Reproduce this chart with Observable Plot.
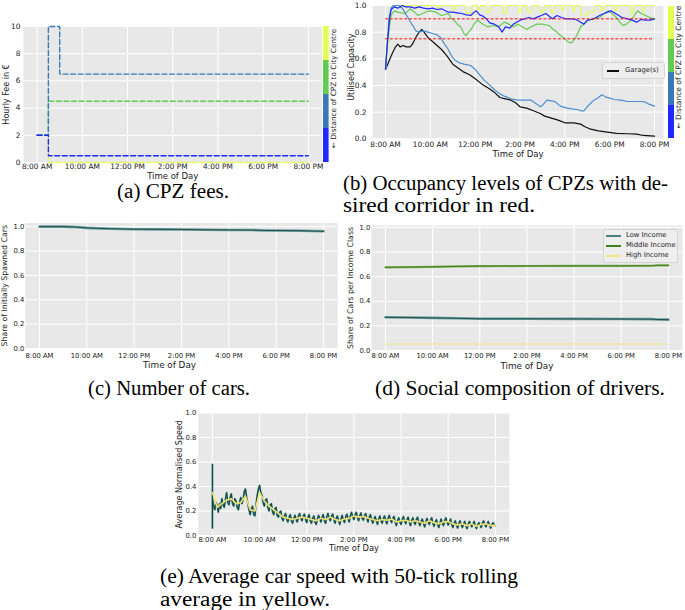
<!DOCTYPE html>
<html><head><meta charset="utf-8">
<script src="https://cdn.jsdelivr.net/npm/d3@7"></script>
<script src="https://cdn.jsdelivr.net/npm/@observablehq/plot@0.6"></script>
<style>
body{margin:0;background:#fff;}
#root{position:relative;width:685px;height:610px;overflow:hidden;background:#fff;}
.cap{position:absolute;font-family:"Liberation Serif",serif;font-size:20px;line-height:20px;color:#000;white-space:nowrap;transform-origin:0 50%;}
.legend{position:absolute;background:rgba(238,238,238,0.9);border:1px solid #d4d4d4;border-radius:2px;box-sizing:border-box;font-family:"DejaVu Sans",sans-serif;color:#222;}
.legend .sw{position:absolute;}
.legend .lt{position:absolute;white-space:nowrap;line-height:1;}
</style></head><body><div id="root"></div>
<script>
// ---------- shared ----------
const hourTicks = [8, 10, 12, 14, 16, 18, 20];
const unitTicks = [0, 0.2, 0.4, 0.6, 0.8, 1.0];
const feeTicks = [0, 2, 4, 6, 8, 10];
const zoneNames = ["Zone 4", "Zone 3", "Zone 2", "Zone 1"]; // top to bottom of colour bar
const zoneColors = ["#e2ff55", "#62cc52", "#3a78b8", "#1e2aff"];
const colorbarLabel = "\u2190 Distance of CPZ to City Centre";

// ---------- (a) CPZ fees ----------
const feeTimes = [8, 8.5, 9, 20];
const feeZone1 = [2, 0.5, 0.5, 0.5];
const feeZone2 = [2, 10, 6.5, 6.5];
const feeZone3 = [2, 4.5, 4.5, 4.5];
const feeZone4 = [2, 0, 0, 0];

// ---------- (b) occupancy ----------
const occGarage = [[8.0,0.52],[8.1,0.56],[8.2,0.6],[8.3,0.64],[8.45,0.69],[8.55,0.71],[8.65,0.69],[8.8,0.70],[8.9,0.69],[9.1,0.69],[9.2,0.71],[9.35,0.76],[9.5,0.80],[9.62,0.82],[9.72,0.80],[9.85,0.77],[9.95,0.75],[10.1,0.73],[10.3,0.70],[10.5,0.67],[10.75,0.62],[11.0,0.56],[11.25,0.53],[11.5,0.50],[11.75,0.48],[12.0,0.45],[12.3,0.41],[12.6,0.38],[12.85,0.35],[13.1,0.31],[13.35,0.30],[13.6,0.29],[13.8,0.27],[14.0,0.24],[14.3,0.23],[14.6,0.21],[14.9,0.19],[15.1,0.17],[15.4,0.155],[15.7,0.14],[16.0,0.12],[16.4,0.12],[16.7,0.11],[16.9,0.09],[17.1,0.075],[17.5,0.06],[17.9,0.05],[18.3,0.04],[18.8,0.038],[19.2,0.035],[19.5,0.025],[20.0,0.02]];
const occZone2 = [[8.0,0.52],[8.08,0.7],[8.15,0.9],[8.25,0.98],[8.35,1.0],[8.6,1.0],[8.75,0.98],[8.85,0.95],[9.0,0.91],[9.1,0.88],[9.25,0.84],[9.35,0.81],[9.5,0.80],[9.7,0.81],[9.9,0.80],[10.1,0.79],[10.3,0.78],[10.45,0.76],[10.6,0.72],[10.8,0.67],[10.95,0.62],[11.1,0.59],[11.3,0.57],[11.5,0.56],[11.8,0.55],[12.0,0.52],[12.2,0.48],[12.4,0.44],[12.6,0.41],[12.85,0.37],[13.0,0.35],[13.3,0.32],[13.6,0.30],[13.9,0.29],[14.1,0.29],[14.3,0.29],[14.5,0.29],[14.75,0.26],[14.9,0.24],[15.0,0.25],[15.2,0.29],[15.4,0.285],[15.55,0.28],[15.8,0.245],[16.1,0.23],[16.3,0.225],[16.55,0.22],[16.75,0.21],[16.85,0.21],[17.05,0.25],[17.3,0.29],[17.5,0.31],[17.65,0.33],[17.8,0.315],[18.0,0.305],[18.2,0.295],[18.5,0.29],[18.8,0.28],[19.1,0.28],[19.4,0.28],[19.6,0.275],[19.75,0.26],[20.0,0.245]];
const occZone1 = [[8.0,0.52],[8.07,0.7],[8.13,0.8],[8.18,0.9],[8.25,0.97],[8.4,0.99],[8.55,0.98],[8.75,1.0],[8.9,0.99],[9.1,0.99],[9.3,0.98],[9.5,0.99],[9.7,0.98],[9.9,0.975],[10.1,0.98],[10.3,0.97],[10.5,0.975],[10.8,0.95],[11.0,0.95],[11.2,0.945],[11.4,0.94],[11.6,0.93],[11.8,0.925],[11.95,0.95],[12.05,0.96],[12.2,0.93],[12.35,0.92],[12.5,0.90],[12.65,0.87],[12.85,0.86],[13.05,0.84],[13.2,0.80],[13.35,0.84],[13.55,0.83],[13.7,0.86],[13.85,0.875],[14.0,0.89],[14.2,0.9],[14.4,0.91],[14.6,0.9],[14.8,0.915],[14.95,0.925],[15.15,0.94],[15.3,0.92],[15.45,0.9],[15.65,0.925],[15.85,0.91],[16.05,0.9],[16.3,0.9],[16.5,0.895],[16.65,0.88],[16.85,0.86],[17.0,0.89],[17.2,0.895],[17.4,0.91],[17.55,0.925],[17.75,0.94],[17.9,0.95],[18.05,0.96],[18.2,0.945],[18.35,0.93],[18.55,0.91],[18.8,0.9],[19.0,0.89],[19.2,0.875],[19.4,0.895],[19.6,0.89],[19.8,0.89],[20.0,0.9]];
const occZone3 = [[8.0,0.52],[8.08,0.7],[8.17,0.84],[8.25,0.93],[8.4,0.96],[8.55,0.95],[8.8,0.94],[8.95,0.95],[9.1,0.975],[9.3,0.95],[9.45,0.925],[9.65,0.94],[9.85,0.955],[10.0,0.96],[10.25,0.95],[10.5,0.925],[10.8,0.94],[10.95,0.9],[11.05,0.89],[11.2,0.86],[11.35,0.84],[11.5,0.79],[11.6,0.775],[11.7,0.8],[11.85,0.83],[11.95,0.86],[12.1,0.89],[12.35,0.86],[12.55,0.84],[12.8,0.85],[13.05,0.84],[13.3,0.875],[13.5,0.86],[13.7,0.84],[13.9,0.86],[14.1,0.84],[14.3,0.82],[14.5,0.84],[14.75,0.86],[15.0,0.86],[15.3,0.85],[15.45,0.825],[15.65,0.8],[15.8,0.775],[16.0,0.75],[16.15,0.725],[16.3,0.72],[16.45,0.75],[16.6,0.8],[16.7,0.84],[16.85,0.86],[17.05,0.89],[17.3,0.9],[17.55,0.91],[17.75,0.94],[17.95,0.96],[18.1,0.94],[18.3,0.91],[18.45,0.875],[18.6,0.85],[18.75,0.86],[18.95,0.89],[19.1,0.925],[19.25,0.96],[19.4,0.94],[19.6,0.925],[19.8,0.91],[20.0,0.9]];
const occZone4 = [[8.0,0.52],[8.08,0.62],[8.15,0.8],[8.22,0.96],[8.3,1.0],[8.7,1.0],[8.75,0.98],[8.85,1.0],[9.4,1.0],[9.45,0.98],[9.55,1.0],[10.3,1.0],[10.35,0.97],[10.45,1.0],[11.0,1.0],[11.05,0.96],[11.15,1.0],[11.55,1.0],[11.6,0.94],[11.8,0.94],[11.85,1.0],[12.1,1.0],[12.15,0.96],[12.25,1.0],[12.45,1.0],[12.5,0.95],[12.65,0.95],[12.7,1.0],[13.2,1.0],[13.25,0.94],[13.4,0.94],[13.45,1.0],[13.9,1.0],[13.95,0.95],[14.05,0.95],[14.1,1.0],[14.3,1.0],[14.35,0.95],[14.5,0.95],[14.55,1.0],[14.85,1.0],[14.9,0.95],[15.05,0.95],[15.1,1.0],[15.35,1.0],[15.4,0.95],[15.5,0.95],[15.55,1.0],[15.85,1.0],[15.9,0.96],[16.0,1.0],[16.35,1.0],[16.4,0.95],[16.5,1.0],[16.7,1.0],[16.75,0.93],[17.0,0.93],[17.05,0.95],[17.3,0.95],[17.35,1.0],[17.6,1.0],[17.65,0.96],[17.8,1.0],[18.2,1.0],[18.25,0.95],[18.35,1.0],[18.9,1.0],[18.95,0.94],[19.05,0.94],[19.1,1.0],[19.45,1.0],[19.5,0.95],[19.6,1.0],[20.0,1.0]];
const corridorLevels = [0.75, 0.9];
const corridorSpan = [8, 20];

// ---------- (c) number of cars ----------
const carsT = [8, 8.5, 9, 9.5, 10, 10.5, 11, 11.5, 12, 13, 14, 15, 16, 17, 17.5, 18, 19, 19.5, 20];
const carsV = [1.0, 1.0, 1.0, 0.997, 0.99, 0.986, 0.983, 0.981, 0.979, 0.978, 0.977, 0.974, 0.973, 0.972, 0.969, 0.968, 0.967, 0.964, 0.962];

// ---------- (d) income classes ----------
const incomeT = [8, 9, 10, 11, 12, 14, 16, 18, 19.3, 19.5, 20];
const incomeLow = [0.27, 0.268, 0.265, 0.262, 0.258, 0.258, 0.257, 0.256, 0.255, 0.252, 0.251];
const incomeMid = [0.676, 0.678, 0.68, 0.683, 0.686, 0.687, 0.688, 0.688, 0.689, 0.692, 0.692];
const incomeHigh = [0.053, 0.053, 0.053, 0.053, 0.053, 0.053, 0.053, 0.053, 0.053, 0.053, 0.053];

// ---------- (e) speed (one row per hour, 3-minute samples) ----------
const speedStart = 8, speedStep = 0.05;
const speedSpike = [0.58, 0.06];
const speedRaw = [
  0.30,0.24,0.21,0.27,0.24,0.19,0.26,0.22,0.30,0.25,0.23,0.29,0.35,0.27,0.25,0.31,0.34,0.26,0.24,0.30,
  0.28,0.23,0.21,0.27,0.31,0.26,0.29,0.36,0.38,0.31,0.26,0.21,0.17,0.22,0.24,0.17,0.16,0.25,0.33,0.38,
  0.41,0.35,0.33,0.27,0.24,0.29,0.30,0.23,0.20,0.25,0.26,0.19,0.17,0.22,0.23,0.16,0.15,0.19,0.20,0.14,
  0.12,0.16,0.18,0.13,0.11,0.15,0.17,0.12,0.10,0.14,0.165,0.13,0.11,0.16,0.18,0.14,0.12,0.16,0.175,0.13,
  0.105,0.15,0.17,0.12,0.10,0.14,0.16,0.11,0.09,0.13,0.165,0.14,0.11,0.15,0.17,0.12,0.10,0.15,0.18,0.14,
  0.12,0.16,0.175,0.13,0.10,0.14,0.16,0.12,0.09,0.13,0.165,0.13,0.105,0.15,0.175,0.14,0.11,0.16,0.19,0.15,
  0.13,0.17,0.19,0.15,0.12,0.16,0.185,0.14,0.125,0.16,0.18,0.14,0.11,0.15,0.17,0.13,0.10,0.13,0.155,0.12,
  0.09,0.13,0.16,0.12,0.10,0.14,0.16,0.12,0.095,0.14,0.165,0.13,0.105,0.14,0.155,0.11,0.08,0.12,0.145,0.11,
  0.09,0.13,0.155,0.12,0.095,0.13,0.15,0.11,0.08,0.12,0.145,0.11,0.09,0.13,0.15,0.11,0.08,0.115,0.135,0.10,
  0.07,0.11,0.14,0.11,0.09,0.125,0.145,0.10,0.075,0.11,0.13,0.09,0.065,0.10,0.135,0.10,0.08,0.12,0.145,0.11,
  0.085,0.11,0.135,0.09,0.065,0.10,0.12,0.085,0.06,0.095,0.12,0.09,0.065,0.095,0.115,0.08,0.055,0.09,0.115,0.09,
  0.07,0.095,0.115,0.08,0.055,0.085,0.105,0.085,0.065,0.10,0.12,0.09,0.07,0.095,0.115,0.085,0.06,0.085,0.105,0.09,
  0.08];
const rollStep = 0.2;
const speedRolling = [0.35,0.23,0.26,0.29,0.30,0.26,0.27,0.32,0.21,0.20,
  0.35,0.28,0.24,0.21,0.18,0.15,0.14,0.13,0.14,0.15,
  0.14,0.13,0.12,0.14,0.13,0.15,0.13,0.12,0.135,0.14,
  0.16,0.15,0.155,0.14,0.13,0.12,0.13,0.125,0.135,0.11,
  0.12,0.125,0.11,0.12,0.11,0.10,0.12,0.105,0.095,0.11,
  0.115,0.095,0.085,0.095,0.08,0.095,0.075,0.09,0.095,0.08,
  0.085];

// ---------- captions ----------
const captions = [
  {text: "(a) CPZ fees.", x: 117, y: 192, w: 112},
  {text: "(b) Occupancy levels of CPZs with de-", x: 343, y: 184, w: 325},
  {text: "sired corridor in red.", x: 343, y: 206, w: 192},
  {text: "(c) Number of cars.", x: 88, y: 389, w: 162},
  {text: "(d) Social composition of drivers.", x: 375, y: 389, w: 290},
  {text: "(e) Average car speed with 50-tick rolling", x: 160, y: 577, w: 358},
  {text: "average in yellow.", x: 160, y: 600, w: 170}
];

// =================== rendering ===================
const root = document.getElementById("root");
const BG = "#e8e8e8";
const FONT = "DejaVu Sans";
const timeLabel = h => `${(h + 11) % 12 + 1}:00 ${h < 12 ? "AM" : "PM"}`;
const f1 = d3.format(".1f");

function place(svg, left, top) {
  svg.style.position = "absolute";
  svg.style.left = left + "px";
  svg.style.top = top + "px";
  root.appendChild(svg);
}

function panel(o) {
  const svg = Plot.plot({
    width: o.width, height: o.height,
    marginLeft: o.ml, marginRight: o.mr, marginTop: o.mt, marginBottom: o.mb,
    x: {domain: o.xd}, y: {domain: o.yd},
    style: {fontFamily: FONT, fontSize: o.fs + "px", color: "#222", background: "transparent", overflow: "visible"},
    marks: [
      Plot.frame({fill: BG, stroke: "none"}),
      Plot.gridX({ticks: hourTicks, stroke: "#fff", strokeOpacity: 1, strokeWidth: 1}),
      Plot.gridY({ticks: o.yTicks, stroke: "#fff", strokeOpacity: 1, strokeWidth: 1}),
      Plot.axisX({ticks: hourTicks, tickSize: 0, tickPadding: o.xpad, tickFormat: timeLabel, label: null, fontSize: o.fs}),
      Plot.axisY({ticks: o.yTicks, tickSize: 0, tickPadding: o.ypad, tickFormat: o.yFmt, label: null, fontSize: o.fs}),
      ...o.marks,
      Plot.text([o.xlabel], {frameAnchor: "bottom", textAnchor: "middle", lineAnchor: "middle", dy: o.xdy, dx: o.xdx || 0, fontSize: o.xfs}),
      Plot.text([o.ylabel], {frameAnchor: "left", textAnchor: "middle", lineAnchor: "middle", dx: o.ydx, dy: o.ydy || 0, rotate: -90, fontSize: o.yfs})
    ]
  });
  place(svg, o.left, o.top);
}

function colorbar(o) {
  const zones = zoneNames.map((z, i) => ({zone: z, color: zoneColors[i]}));
  const svg = Plot.plot({
    width: o.width, height: o.height,
    marginLeft: o.ml, marginRight: o.mr, marginTop: o.mt, marginBottom: o.mb,
    y: {type: "band", domain: zoneNames, padding: 0, axis: null},
    color: {type: "identity"},
    style: {fontFamily: FONT, fontSize: o.fs + "px", color: "#222", background: "transparent", overflow: "visible"},
    marks: [
      Plot.cell(zones, {y: "zone", fill: "color", inset: 0}),
      Plot.text([colorbarLabel], {frameAnchor: "right", textAnchor: "middle", lineAnchor: "middle", dx: o.tdx, dy: o.tdy, rotate: -90, fontSize: o.fs})
    ]
  });
  place(svg, o.left, o.top);
}

const pairs = arr => arr.map(([t, v]) => ({t, v}));
const zip = (ts, vs) => ts.map((t, i) => ({t, v: vs[i]}));

// (a)
const dash = {x: "t", y: "v", curve: "step-after", strokeWidth: 1.4, strokeDasharray: "5,2.6"};
panel({
  left: 0, top: 0, width: 330, height: 182, ml: 23, mr: 8.5, mt: 26, mb: 20,
  xd: [7.4, 20.6], yd: [0, 10], yTicks: feeTicks, yFmt: d => String(d),
  fs: 7.4, xpad: 1.5, ypad: 3,
  xlabel: "Time of Day", xdy: 14, xfs: 8.5,
  ylabel: "Hourly Fee in \u20ac", ydx: -17, yfs: 8,
  marks: [
    Plot.line(zip(feeTimes, feeZone4), {...dash, stroke: zoneColors[0]}),
    Plot.line(zip(feeTimes, feeZone3), {...dash, stroke: zoneColors[1]}),
    Plot.line(zip(feeTimes, feeZone2), {...dash, stroke: zoneColors[2]}),
    Plot.line(zip(feeTimes, feeZone1), {...dash, stroke: zoneColors[3]})
  ]
});
colorbar({left: 318, top: 0, width: 24, height: 182, ml: 5, mr: 13.4, mt: 26, mb: 20, fs: 7.3, tdx: 4.5, tdy: -6});

// (b)
const solid = {x: "t", y: "v", strokeWidth: 1.2};
panel({
  left: 340, top: 0, width: 335, height: 161, ml: 32, mr: 12, mt: 5, mb: 22.7,
  xd: [7.42, 20.4], yd: [0, 1], yTicks: unitTicks, yFmt: f1,
  fs: 7.4, xpad: 3, ypad: 6,
  xlabel: "Time of Day", xdy: 15.5, xfs: 8.5,
  ylabel: "Utilised Capacity", ydx: -21, ydy: -5, yfs: 8,
  marks: [
    Plot.line(pairs(occGarage), {...solid, stroke: "#111"}),
    Plot.line(pairs(occZone4), {...solid, stroke: zoneColors[0]}),
    Plot.line(pairs(occZone3), {...solid, stroke: zoneColors[1]}),
    Plot.line(pairs(occZone2), {...solid, stroke: "#4a8fd0"}),
    Plot.line(pairs(occZone1), {...solid, stroke: zoneColors[3]}),
    Plot.ruleY(corridorLevels, {x1: corridorSpan[0], x2: corridorSpan[1], stroke: "#ff1010", strokeWidth: 1, strokeDasharray: "3,1.8"})
  ]
});
colorbar({left: 663, top: 0, width: 22, height: 161, ml: 5, mr: 11, mt: 5, mb: 22.7, fs: 7.5, tdx: 4.5, tdy: -5});

// (c)
panel({
  left: 0, top: 210, width: 345, height: 165, ml: 24.8, mr: 7.8, mt: 12.5, mb: 27,
  xd: [7.4, 20.6], yd: [0, 1.03], yTicks: unitTicks, yFmt: f1,
  fs: 6.8, xpad: 5, ypad: 1,
  xlabel: "Time of Day", xdy: 16.5, xdx: -12, xfs: 8.8,
  ylabel: "Share of Initially Spawned Cars", ydx: -20.6, yfs: 7.8,
  marks: [
    Plot.line(zip(carsT, carsV), {x: "t", y: "v", stroke: "#6a9c9c", strokeWidth: 2.6}),
    Plot.line(zip(carsT, carsV), {x: "t", y: "v", stroke: "#1f4f4f", strokeWidth: 1})
  ]
});

// (d)
panel({
  left: 340, top: 210, width: 345, height: 165, ml: 30.8, mr: 3, mt: 15, mb: 25,
  xd: [7.4, 20.6], yd: [0, 1.016], yTicks: unitTicks, yFmt: f1,
  fs: 6.8, xpad: 2.5, ypad: 1,
  xlabel: "Time of Day", xdy: 15.5, xfs: 8.8,
  ylabel: "Share of Cars per Income Class", ydx: -20.8, yfs: 7.8,
  marks: [
    Plot.line(zip(incomeT, incomeHigh), {x: "t", y: "v", stroke: "#f3e38a", strokeWidth: 1.2}),
    Plot.line(zip(incomeT, incomeMid), {x: "t", y: "v", stroke: "#7fb05a", strokeWidth: 2.2}),
    Plot.line(zip(incomeT, incomeMid), {x: "t", y: "v", stroke: "#3f7f1c", strokeWidth: 1}),
    Plot.line(zip(incomeT, incomeLow), {x: "t", y: "v", stroke: "#6a9c9c", strokeWidth: 2.6}),
    Plot.line(zip(incomeT, incomeLow), {x: "t", y: "v", stroke: "#1f4f4f", strokeWidth: 1})
  ]
});

// (e)
const speedDark = [{t: speedStart, v: speedSpike[0]}, {t: speedStart, v: speedSpike[1]}]
  .concat(speedRaw.map((v, i) => ({t: speedStart + i * speedStep, v})));
const speedRoll = speedRolling.map((v, i) => ({t: speedStart + i * rollStep, v}));
panel({
  left: 160, top: 400, width: 360, height: 155, ml: 37.8, mr: 11, mt: 12.5, mb: 20,
  xd: [7.4, 20.6], yd: [0, 1], yTicks: unitTicks, yFmt: f1,
  fs: 6.8, xpad: 1.5, ypad: 2,
  xlabel: "Time of Day", xdy: 13.3, xfs: 8.3,
  ylabel: "Average Normalised Speed", ydx: -18.8, yfs: 8,
  marks: [
    Plot.line(speedDark, {x: "t", y: "v", stroke: "#4d8a86", strokeWidth: 1.8}),
    Plot.line(speedDark, {x: "t", y: "v", stroke: "#0e4541", strokeWidth: 1}),
    Plot.line(speedRoll, {x: "t", y: "v", stroke: "#f2e274", strokeWidth: 1.6})
  ]
});

// legends
function legend(left, top, w, h, fs, items) {
  const box = document.createElement("div");
  box.className = "legend";
  Object.assign(box.style, {left: left + "px", top: top + "px", width: w + "px", height: h + "px"});
  for (const it of items) {
    const sw = document.createElement("div");
    sw.className = "sw";
    Object.assign(sw.style, {left: it.sx + "px", width: it.sw + "px", top: (it.cy - it.lw / 2) + "px", height: it.lw + "px", background: it.color});
    box.appendChild(sw);
    const t = document.createElement("div");
    t.className = "lt";
    t.textContent = it.label;
    Object.assign(t.style, {left: it.tx + "px", top: (it.cy - fs * 0.55) + "px", fontSize: fs + "px"});
    box.appendChild(t);
  }
  root.appendChild(box);
}
legend(602, 62, 63, 17, 6.8, [{label: "Garage(s)", color: "#111", sx: 4, sw: 12, lw: 1.5, cy: 8, tx: 22}]);
legend(603, 229, 75, 34, 6.8, [
  {label: "Low Income", color: "#4d8282", sx: 2, sw: 15, lw: 2.4, cy: 6, tx: 22},
  {label: "Middle Income", color: "#3f7f1c", sx: 2, sw: 15, lw: 1.3, cy: 16, tx: 22},
  {label: "High Income", color: "#f3e38a", sx: 2, sw: 15, lw: 1.3, cy: 26, tx: 22}
]);

// captions
for (const c of captions) {
  const d = document.createElement("div");
  d.className = "cap";
  d.textContent = c.text;
  d.style.left = c.x + "px";
  d.style.top = (c.y - 11) + "px";
  root.appendChild(d);
  const w = d.getBoundingClientRect().width;
  d.style.transform = `scaleX(${c.w / w})`;
}
</script></body></html>
